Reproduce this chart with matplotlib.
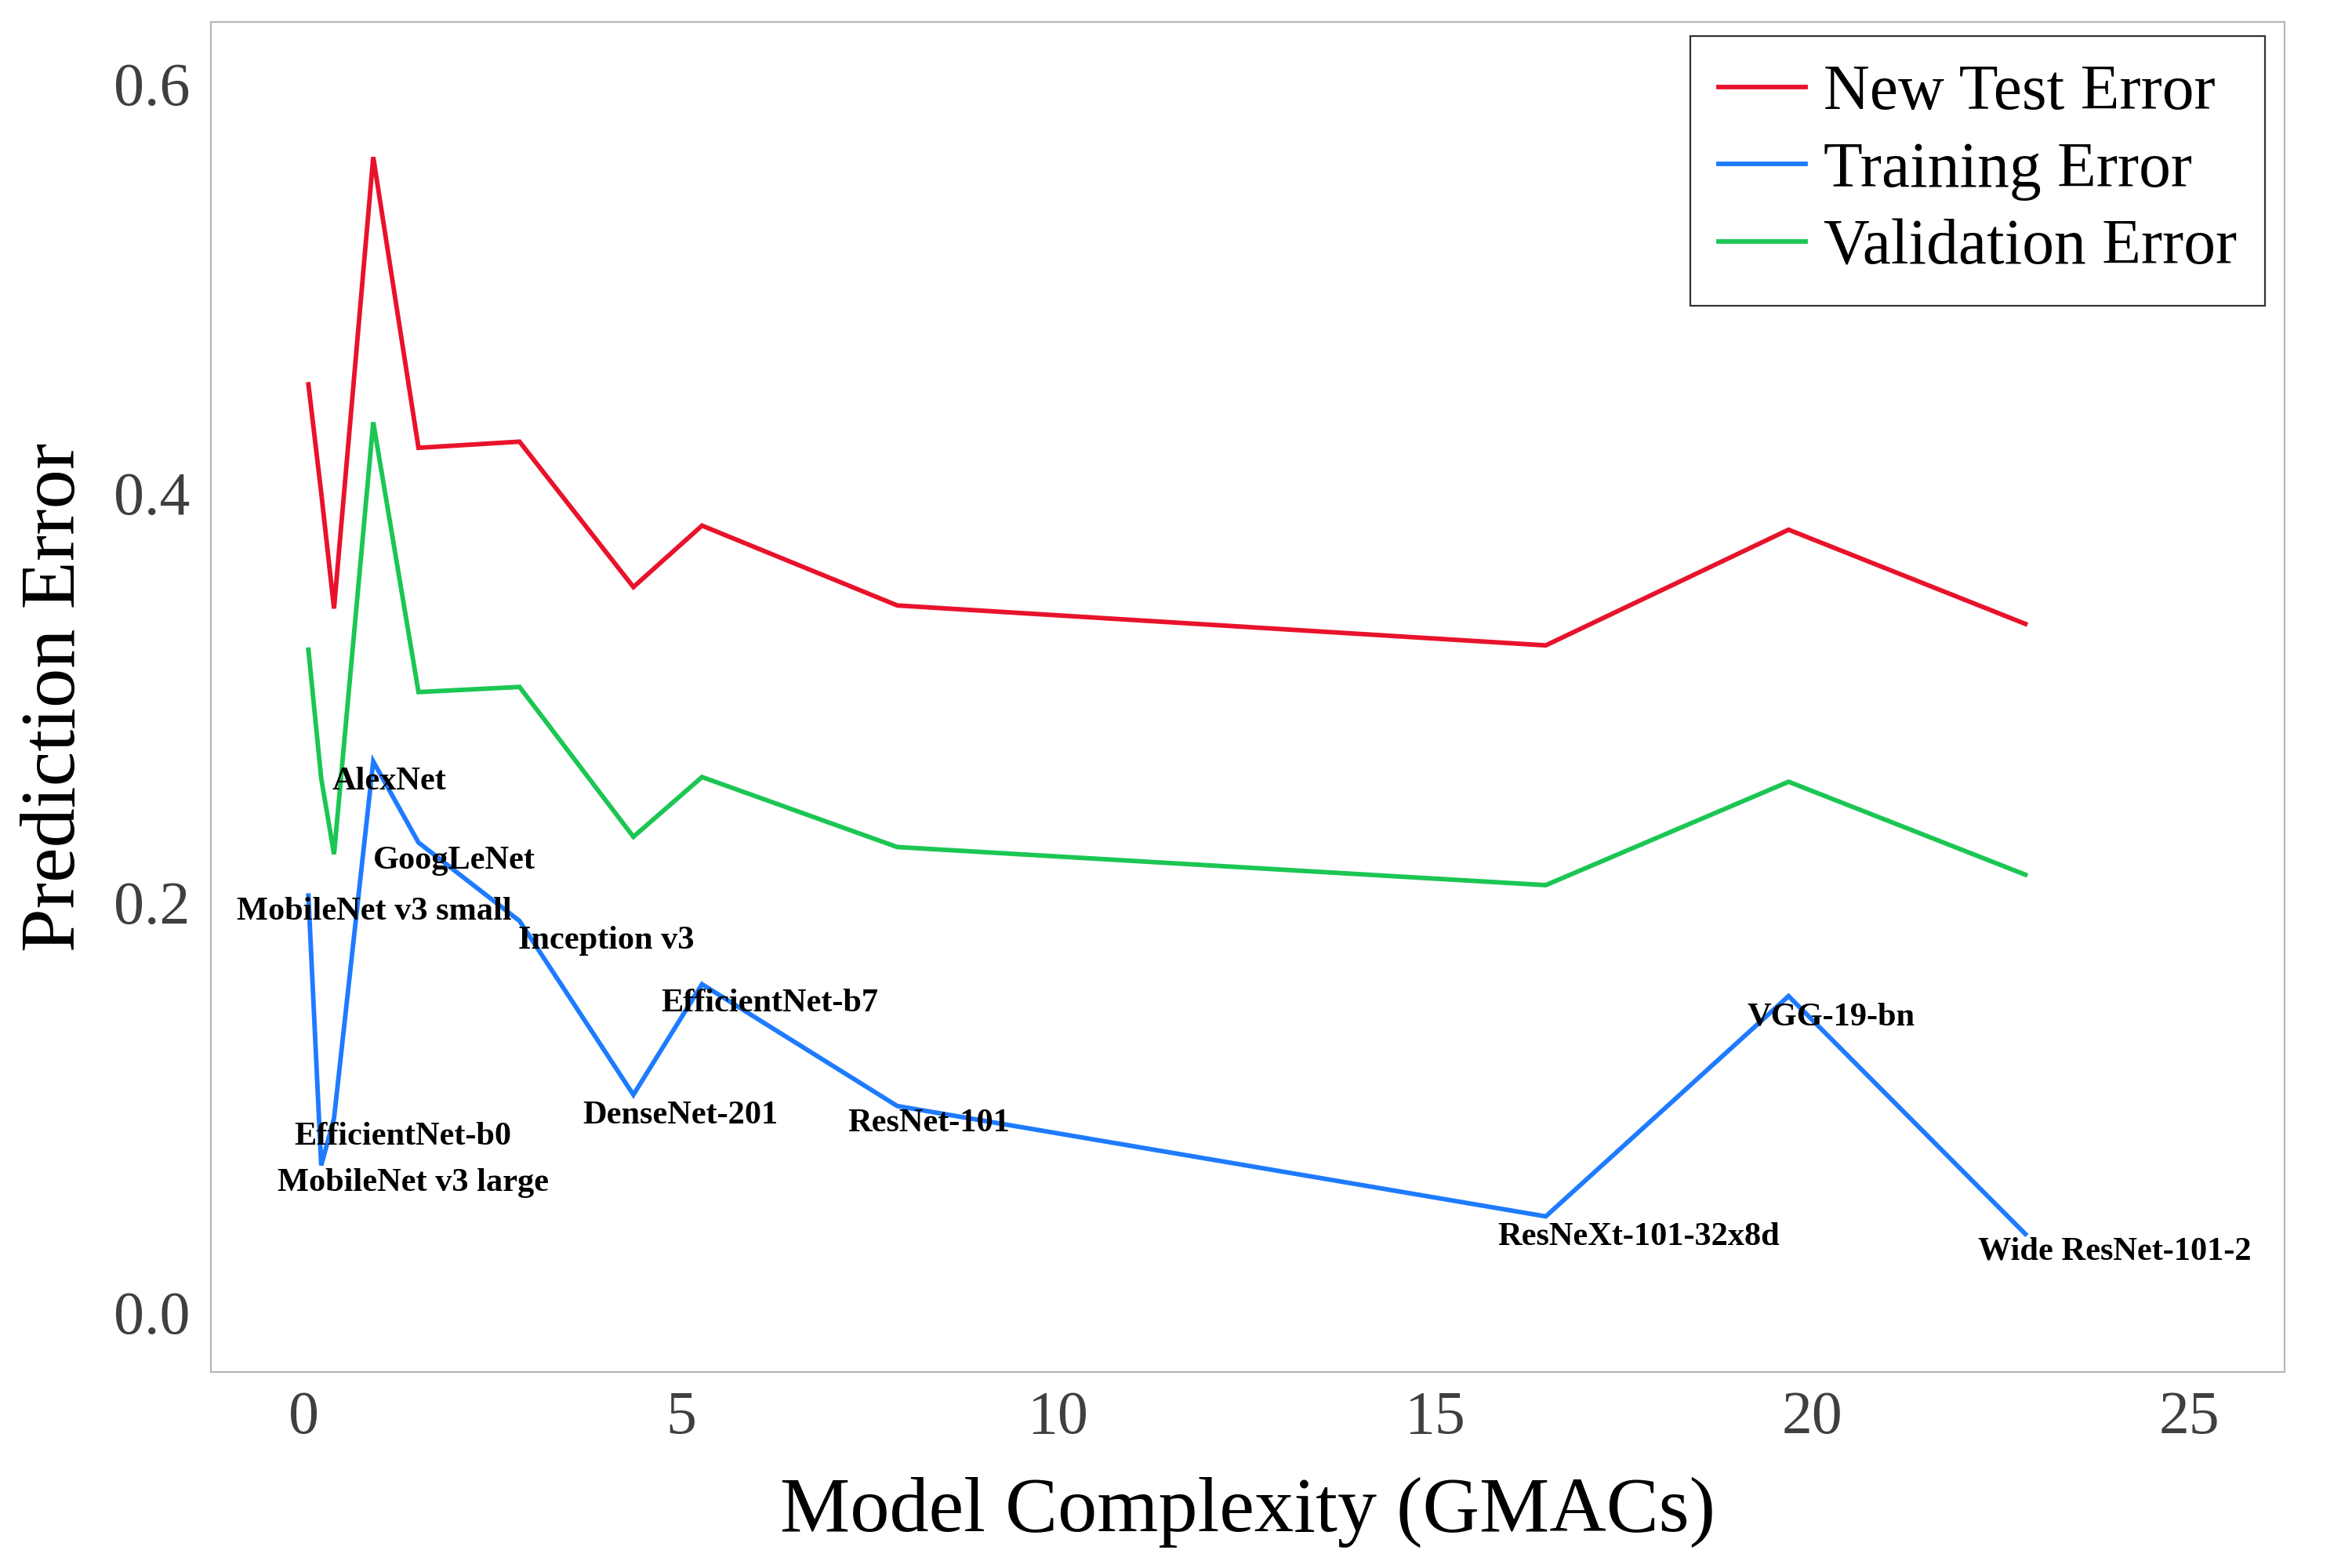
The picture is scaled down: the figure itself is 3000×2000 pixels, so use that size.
import matplotlib
matplotlib.use("Agg")
import matplotlib.pyplot as plt

# ---- data ----
models = ["MobileNet v3 small", "MobileNet v3 large", "EfficientNet-b0", "AlexNet",
          "GoogLeNet", "Inception v3", "DenseNet-201", "EfficientNet-b7",
          "ResNet-101", "ResNeXt-101-32x8d", "VGG-19-bn", "Wide ResNet-101-2"]
gmacs = [0.06, 0.23, 0.40, 0.92, 1.52, 2.86, 4.37, 5.28, 7.87, 16.47, 19.69, 22.83]
test_error = [0.453, 0.400, 0.3435, 0.564, 0.422, 0.425, 0.354, 0.384, 0.345, 0.3255, 0.382, 0.336]
train_error = [0.2033, 0.0715, 0.0945, 0.2688, 0.2292, 0.1909, 0.1060, 0.1600, 0.1005, 0.0466, 0.1542, 0.038]
val_error = [0.3234, 0.2605, 0.2235, 0.4345, 0.3027, 0.3052, 0.2320, 0.2612, 0.2270, 0.2084, 0.2589, 0.2135]

# label offsets from the training-error point (data units)
label_dx = [0.87, 1.22, 0.91, 0.21, 0.47, 1.15, 0.62, 0.90, 0.42, 1.23, 0.56, 1.18]
label_dy = [-0.0080, -0.0088, -0.0091, -0.0098, -0.0090, -0.0095, -0.0100, -0.0094, -0.0085, -0.0102, -0.0102, -0.0085]

xticks = [0, 5, 10, 15, 20, 25]
yticks = [0.0, 0.2, 0.4, 0.6]

serif = ["Liberation Serif", "DejaVu Serif"]
plt.rcParams["font.family"] = serif

fig = plt.figure(figsize=(30, 20), dpi=100)
ax = fig.add_axes([0.0897, 0.125, 0.8817, 0.861])

lw = 4.2
ax.plot(gmacs, test_error, color="#E8132B", lw=lw, label="New Test Error", solid_joinstyle="miter")
ax.plot(gmacs, train_error, color="#1E7BFF", lw=lw, label="Training Error", solid_joinstyle="miter")
ax.plot(gmacs, val_error, color="#1BC653", lw=lw, label="Validation Error", solid_joinstyle="miter")

for name, x, y, dx, dy in zip(models, gmacs, train_error, label_dx, label_dy):
    ax.text(x + dx, y + dy, name, ha="center", va="center", fontsize=30.5,
            fontweight="bold", color="black", family=serif)

ax.set_xlim(-1.232, 26.27)
ax.set_ylim(-0.0294, 0.630)
ax.set_xticks(xticks)
ax.set_yticks(yticks)
ax.set_xticklabels([str(t) for t in xticks])
ax.set_yticklabels([f"{t:.1f}" for t in yticks])
ax.tick_params(axis="both", length=0, labelsize=56, labelcolor="#3f3f3f")
ax.tick_params(axis="x", pad=17)
ax.tick_params(axis="y", pad=19)

for s in ax.spines.values():
    s.set_color("#b5b5b5")
    s.set_linewidth(1.5)

ax.set_xlabel("Model Complexity (GMACs)", fontsize=72.3, color="black", labelpad=28)
ax.set_ylabel("Prediction Error", fontsize=72.3, color="black", labelpad=21)

leg = ax.legend(loc="upper right", bbox_to_anchor=(0.9905, 0.9895), borderaxespad=0,
                fontsize=58.7, frameon=True, fancybox=False, handlelength=1.36,
                handletextpad=0.28, borderpad=0.44, labelspacing=0.28)
leg.get_frame().set_edgecolor("black")
leg.get_frame().set_linewidth(1.6)
for line in leg.get_lines():
    line.set_linewidth(4.2)

fig.savefig("out.png", dpi=100, facecolor="white")
